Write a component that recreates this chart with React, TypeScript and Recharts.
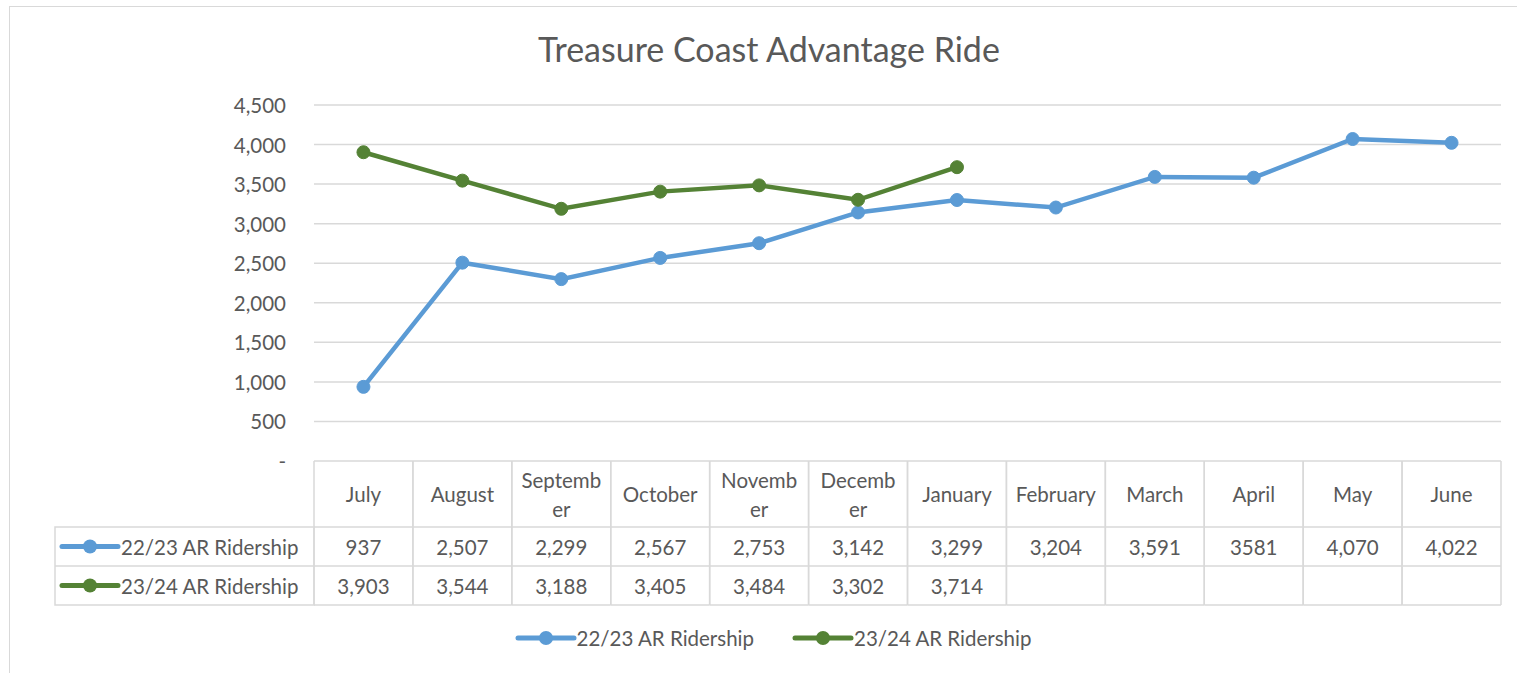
import React from "react";
import {
  ComposedChart,
  Line,
  XAxis,
  YAxis,
  CartesianGrid,
  Legend,
} from "recharts";

// chart data
const months = [
  "July", "August", "September", "October", "November", "December",
  "January", "February", "March", "April", "May", "June",
];

// header text as it wraps in the table cells
const monthHeaderLines = [
  ["July"], ["August"], ["Septemb", "er"], ["October"], ["Novemb", "er"], ["Decemb", "er"],
  ["January"], ["February"], ["March"], ["April"], ["May"], ["June"],
];

const ridership2223 = [937, 2507, 2299, 2567, 2753, 3142, 3299, 3204, 3591, 3581, 4070, 4022];
const ridership2324 = [3903, 3544, 3188, 3405, 3484, 3302, 3714, null, null, null, null, null];

// April 22/23 was typed without a thousands separator in the source table
const unformattedCells2223 = [9];

const yTicks = [0, 500, 1000, 1500, 2000, 2500, 3000, 3500, 4000, 4500];

const SERIES = [
  { key: "r2223", name: "22/23 AR Ridership", color: "#5B9BD5", values: ridership2223, plain: unformattedCells2223 },
  { key: "r2324", name: "23/24 AR Ridership", color: "#548235", values: ridership2324, plain: [] as number[] },
];

const data = months.map((month, i) => ({
  month,
  r2223: ridership2223[i],
  r2324: ridership2324[i],
}));

const FONT = "Lato, 'Liberation Sans', sans-serif";
const TEXT = "#595959";
const GRID = "#d9d9d9";
const FS = 20.5;

const CHART_W = 1517;
const CHART_H = 673;
const MARGIN = { top: 105, right: 16, bottom: 62, left: 254 };
const Y_AXIS_W = 60;
const PLOT_W = CHART_W - MARGIN.left - Y_AXIS_W - MARGIN.right;
const BAND = PLOT_W / months.length;

const HEADER_H = 66;
const ROW_H = 39;
const LABEL_COL_W = 259;

function fmt(v: number | null, i: number, plain: number[]) {
  if (v == null) return "";
  return plain.includes(i) ? String(v) : v.toLocaleString("en-US");
}

function SeriesIcon({ x, y, color }: { x: number; y: number; color: string }) {
  return (
    <g>
      <line x1={x} y1={y} x2={x + 56} y2={y} stroke={color} strokeWidth={5} strokeLinecap="round" />
      <circle cx={x + 28} cy={y} r={7} fill={color} />
    </g>
  );
}

function TableTick(props: any) {
  const { x, y, payload } = props;
  const i = payload.index;
  const left = x - BAND / 2;
  const right = x + BAND / 2;
  const lines = monthHeaderLines[i];
  const bottom = y + HEADER_H + ROW_H * SERIES.length;
  return (
    <g fontFamily={FONT} fontSize={FS} fill={TEXT}>
      <line x1={left} y1={y} x2={left} y2={bottom} stroke={GRID} strokeWidth={1.5} />
      <line x1={right} y1={y} x2={right} y2={bottom} stroke={GRID} strokeWidth={1.5} />
      {SERIES.map((s, r) => (
        <line
          key={s.key}
          x1={left}
          x2={right}
          y1={y + HEADER_H + ROW_H * (r + 1)}
          y2={y + HEADER_H + ROW_H * (r + 1)}
          stroke={GRID}
          strokeWidth={1.5}
        />
      ))}
      <line x1={left} x2={right} y1={y + HEADER_H} y2={y + HEADER_H} stroke={GRID} strokeWidth={1.5} />
      {lines.map((t, k) => (
        <text
          key={k}
          x={x}
          y={y + HEADER_H / 2 + (k - (lines.length - 1) / 2) * 29}
          textAnchor="middle"
          dominantBaseline="central"
        >
          {t}
        </text>
      ))}
      {SERIES.map((s, r) => (
        <text
          key={s.key}
          x={x}
          y={y + HEADER_H + ROW_H * r + ROW_H / 2}
          textAnchor="middle"
          dominantBaseline="central"
        >
          {fmt(s.values[i], i, s.plain)}
        </text>
      ))}
      {i === 0 && (
        <g>
          <rect
            x={left - LABEL_COL_W}
            y={y + HEADER_H}
            width={LABEL_COL_W}
            height={ROW_H * SERIES.length}
            fill="none"
            stroke={GRID}
            strokeWidth={1.5}
          />
          <line
            x1={left - LABEL_COL_W}
            x2={left}
            y1={y + HEADER_H + ROW_H}
            y2={y + HEADER_H + ROW_H}
            stroke={GRID}
            strokeWidth={1.5}
          />
          {SERIES.map((s, r) => {
            const cy = y + HEADER_H + ROW_H * r + ROW_H / 2;
            return (
              <g key={s.key}>
                <SeriesIcon x={left - LABEL_COL_W + 7} y={cy} color={s.color} />
                <text x={left - LABEL_COL_W + 66} y={cy} dominantBaseline="central">
                  {s.name}
                </text>
              </g>
            );
          })}
        </g>
      )}
    </g>
  );
}

function YTick(props: any) {
  const { x, y, payload } = props;
  return (
    <text x={x} y={y} textAnchor="end" dominantBaseline="central" fontFamily={FONT} fontSize={FS} fill={TEXT}>
      {payload.value === 0 ? "-" : payload.value.toLocaleString("en-US")}
    </text>
  );
}

function LegendContent() {
  return (
    <div style={{ display: "flex", justifyContent: "center", gap: 38, fontFamily: FONT, fontSize: FS, color: TEXT }}>
      {SERIES.map((s) => (
        <div key={s.key} style={{ display: "flex", alignItems: "center" }}>
          <svg width={62} height={20}>
            <SeriesIcon x={3} y={10} color={s.color} />
          </svg>
          <span>{s.name}</span>
        </div>
      ))}
    </div>
  );
}

export default function App() {
  return (
    <div
      style={{
        position: "absolute",
        left: 0,
        top: 0,
        width: CHART_W,
        height: CHART_H,
        background: "#fff",
        overflow: "hidden",
      }}
    >
      <div
        style={{
          position: "absolute",
          left: 9,
          top: 6,
          width: CHART_W + 20,
          height: CHART_H + 20,
          border: `1.5px solid ${GRID}`,
        }}
      />
      <div
        style={{
          position: "absolute",
          left: 0,
          top: 28,
          width: 1538,
          textAlign: "center",
          fontFamily: FONT,
          fontSize: 34,
          color: TEXT,
        }}
      >
        Treasure Coast Advantage Ride
      </div>
      <ComposedChart width={CHART_W} height={CHART_H} data={data} margin={MARGIN}>
        <CartesianGrid vertical={false} stroke={GRID} strokeWidth={1.5} />
        <XAxis
          dataKey="month"
          axisLine={false}
          tickLine={false}
          tickSize={0}
          tickMargin={0}
          height={150}
          interval={0}
          padding={{ left: BAND / 2, right: BAND / 2 }}
          tick={<TableTick />}
        />
        <YAxis
          width={Y_AXIS_W}
          domain={[0, 4500]}
          ticks={yTicks}
          axisLine={false}
          tickLine={false}
          tickSize={0}
          tickMargin={28}
          tick={<YTick />}
        />
        <Legend
          layout="horizontal"
          verticalAlign="middle"
          align="center"
          wrapperStyle={{ top: 626, left: 0, width: 1546 }}
          content={<LegendContent />}
        />
        {SERIES.map((s) => (
          <Line
            key={s.key}
            dataKey={s.key}
            name={s.name}
            stroke={s.color}
            strokeWidth={4.5}
            dot={{ r: 6.5, fill: s.color, stroke: s.color, strokeWidth: 1 }}
            activeDot={false}
            isAnimationActive={false}
          />
        ))}
      </ComposedChart>
    </div>
  );
}
